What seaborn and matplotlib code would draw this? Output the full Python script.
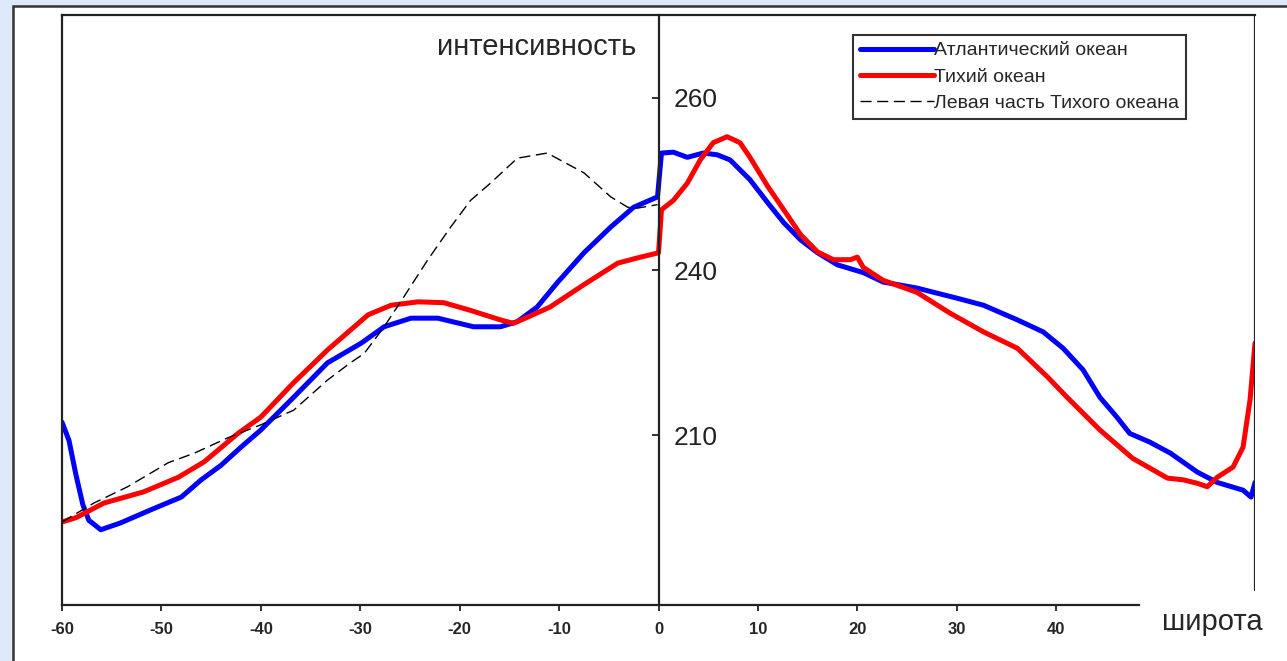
import numpy as np
import pandas as pd
import matplotlib
matplotlib.use("Agg")
import matplotlib.pyplot as plt
import matplotlib.patches as mpatches
import seaborn as sns

# values (latitude, intensity)
atl_lat = [-60, -59.3, -58.6, -57.9, -57.3, -56.1, -54.1, -51.1, -48.0, -46.0, -44.0, -42.0,
           -40.0, -36.7, -33.3, -29.9, -27.6, -24.9, -22.2, -18.6, -15.9, -14.2, -12.2, -10.2,
           -7.5, -4.8, -2.5, -0.1, 0.3, 1.5, 2.9, 4.5, 5.9, 7.2, 9.2, 11.0, 12.6, 14.3, 16.0,
           18.0, 20.6, 22.6, 26.0, 30.1, 32.7, 36.1, 38.7, 40.7, 42.7, 44.4, 46.1, 47.4, 49.4,
           51.5, 54.2, 56.2, 58.8, 59.6, 60.0]
atl_val = [222.3, 220.2, 216.2, 212.7, 210.9, 209.8, 210.6, 212.1, 213.6, 215.6, 217.3, 219.4,
           221.4, 225.2, 229.2, 231.5, 233.4, 234.4, 234.4, 233.4, 233.4, 234.0, 235.7, 238.5,
           242.0, 245.0, 247.3, 248.5, 253.6, 253.7, 253.1, 253.6, 253.4, 252.8, 250.5, 247.8,
           245.5, 243.5, 242.0, 240.6, 239.7, 238.6, 237.9, 236.7, 235.9, 234.2, 232.8, 230.9,
           228.4, 225.2, 222.9, 221.0, 220.0, 218.7, 216.5, 215.3, 214.4, 213.6, 215.3]

pac_lat = [-60, -58.6, -55.8, -51.8, -48.3, -45.7, -42.3, -40.0, -36.7, -33.3, -31.0, -29.2,
           -26.9, -24.2, -21.6, -18.9, -15.9, -14.6, -13.2, -10.9, -7.5, -4.1, -1.8, 0.0, 0.3,
           1.5, 2.9, 4.2, 5.5, 6.9, 8.2, 9.2, 11.0, 12.6, 14.3, 16.0, 17.6, 19.3, 20.0, 20.6,
           22.6, 26.0, 29.3, 32.7, 36.1, 39.1, 41.1, 44.4, 47.7, 51.2, 52.8, 54.2, 55.2, 56.2,
           57.8, 58.8, 59.5, 60.0]
pac_val = [210.7, 211.2, 212.9, 214.2, 215.9, 217.7, 221.0, 222.9, 226.9, 230.7, 233.0, 234.8,
           235.9, 236.3, 236.2, 235.3, 234.2, 233.8, 234.5, 235.7, 238.3, 240.8, 241.5, 242.0,
           247.0, 248.1, 250.1, 252.8, 254.8, 255.5, 254.8, 253.1, 249.7, 247.0, 244.1, 242.1,
           241.2, 241.2, 241.5, 240.3, 238.8, 237.4, 235.0, 232.8, 230.9, 227.6, 225.2, 221.4,
           218.1, 215.8, 215.6, 215.2, 214.8, 215.9, 217.1, 219.4, 224.9, 231.5]

west_lat = [-60, -56.8, -53.4, -49.3, -46.7, -43.3, -40.0, -36.7, -33.3, -31.0, -29.6, -27.6,
            -25.6, -23.2, -20.9, -18.9, -16.9, -14.2, -11.2, -7.5, -4.8, -3.1, -2.1, -0.1]
west_val = [210.7, 212.9, 214.8, 217.6, 218.7, 220.5, 222.0, 223.7, 227.2, 229.2, 230.3, 233.4,
            236.9, 241.2, 245.0, 248.1, 250.1, 253.0, 253.6, 251.3, 248.5, 247.3, 247.2, 247.6]

names = ["Атлантический океан", "Тихий океан", "Левая часть Тихого океана"]
xticks = [-60, -50, -40, -30, -20, -10, 0, 10, 20, 30, 40]
ytick_pos = [220.8, 240, 260]
ytick_lab = ["210", "240", "260"]

sns.set_style("white")
plt.rcParams["font.family"] = ["Liberation Sans", "DejaVu Sans"]

fig = plt.figure(figsize=(12.87, 6.61), dpi=100)
fig.patch.set_facecolor("#dde9f8")
panel = mpatches.Rectangle((13 / 1287, -0.05), 1.05, 1.05 - 6 / 661,
                           transform=fig.transFigure, facecolor="white",
                           edgecolor="#333333", lw=1.8, zorder=-1)
fig.add_artist(panel)

ax = fig.add_axes([62 / 1287, 1 - 605 / 661, (1255 - 62) / 1287, 590 / 661])
ax.set_facecolor("white")

sns.lineplot(x=atl_lat, y=atl_val, color="#0000ff", lw=3.6, label=names[0], ax=ax)
sns.lineplot(x=pac_lat, y=pac_val, color="#ff0000", lw=3.6, label=names[1], ax=ax)
sns.lineplot(x=west_lat, y=west_val, color="black", lw=1.0, linestyle=(0, (8, 4)),
             label=names[2], ax=ax)

ax.set_xlim(-60, 60)
ax.set_ylim(201.05, 269.65)
ax.set_xlabel("")
ax.set_ylabel("")

# frame
for s in ["top", "left", "bottom"]:
    ax.spines[s].set_color("#222222")
    ax.spines[s].set_linewidth(1.6)
ax.spines["bottom"].set_bounds(-60, 48.3)
# y axis drawn through latitude 0, labels to its right
ax.yaxis.tick_right()
ax.spines["right"].set_position(("data", 0))
ax.spines["right"].set_color("#222222")
ax.spines["right"].set_linewidth(1.6)
ax.axvline(60, ymin=15 / 590, ymax=1, color="#222222", lw=1.6)

ax.set_xticks(xticks)
ax.set_xticklabels([str(v) for v in xticks], fontsize=12, fontweight="bold")
ax.tick_params(axis="x", direction="out", length=4, width=1.3, color="#222222",
               bottom=True, pad=8)
ax.set_yticks(ytick_pos)
ax.set_yticklabels(ytick_lab, fontsize=19, color="#222222")
ax.tick_params(axis="y", direction="in", length=5, width=1.3, color="#222222",
               right=True, left=False, pad=11)

fig.text(636 / 1287, 1 - 55 / 661, "интенсивность", fontsize=21, ha="right", va="baseline")
fig.text(1212 / 1287, 1 - 630 / 661, "широта", fontsize=21, ha="center", va="baseline")

leg = ax.legend(loc="upper left", bbox_to_anchor=((853 - 62) / 1193, (605 - 35) / 590),
                fontsize=14, frameon=True, fancybox=False, handlelength=3.8,
                handletextpad=0.0, labelspacing=0.45, borderpad=0.35, borderaxespad=0)
leg.get_frame().set_edgecolor("black")
leg.get_frame().set_linewidth(1.5)

fig.savefig("out.png", dpi=100)
